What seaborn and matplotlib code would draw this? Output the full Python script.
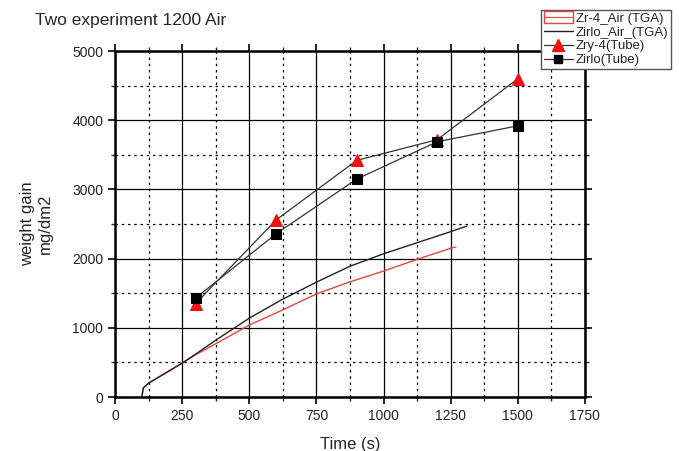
import numpy as np
import pandas as pd
import matplotlib
matplotlib.use('Agg')
import matplotlib.pyplot as plt
import seaborn as sns
from matplotlib.patches import Rectangle
from matplotlib.lines import Line2D
from matplotlib.ticker import MultipleLocator

# TGA curves
tga_time_zr4 = [100, 105, 125, 250, 300, 375, 500, 625, 750, 875, 1000, 1125, 1250, 1269]
tga_gain_zr4 = [0, 130, 200, 490, 610, 770, 1040, 1260, 1490, 1665, 1820, 1990, 2150, 2168]
tga_time_zirlo = [100, 105, 125, 250, 300, 375, 500, 625, 750, 875, 1000, 1125, 1250, 1310]
tga_gain_zirlo = [0, 130, 200, 490, 620, 820, 1140, 1415, 1660, 1890, 2070, 2230, 2390, 2470]

# tube experiments
tube_time = [300, 600, 900, 1200, 1500]
tube_zry4 = [1350, 2560, 3420, 3720, 4600]
tube_zirlo = [1430, 2360, 3150, 3690, 3920]


class BoxLineHandler:
    # red outlined box with a line through it, like the origin legend
    def legend_artist(self, legend, orig_handle, fontsize, handlebox):
        x0, y0 = handlebox.xdescent, handlebox.ydescent
        w, h = handlebox.width, handlebox.height
        r = Rectangle((x0, y0 - 1), w, h + 2, facecolor='white',
                      edgecolor='#e8463c', lw=1.0, transform=handlebox.get_transform())
        ln = Line2D([x0, x0 + w], [y0 + h / 2, y0 + h / 2], color='#e8463c', lw=0.8,
                    transform=handlebox.get_transform())
        handlebox.add_artist(r)
        handlebox.add_artist(ln)
        return r


sns.set_style('ticks')
plt.rcParams['font.family'] = ['Liberation Sans', 'DejaVu Sans']

fig = plt.figure(figsize=(6.79, 4.51), dpi=100)
ax = fig.add_axes([0.1694, 0.1197, 0.692, 0.767])

df_zr4 = pd.DataFrame({'t': tga_time_zr4, 'w': tga_gain_zr4})
df_zirlo = pd.DataFrame({'t': tga_time_zirlo, 'w': tga_gain_zirlo})
df_tube = pd.DataFrame({'t': tube_time, 'zry4': tube_zry4, 'zirlo': tube_zirlo})

sns.lineplot(data=df_zr4, x='t', y='w', ax=ax, color='#e8463c', lw=1.0, zorder=4)
sns.lineplot(data=df_zirlo, x='t', y='w', ax=ax, color='#222222', lw=1.0, zorder=4)
sns.lineplot(data=df_tube, x='t', y='zry4', ax=ax, color='#333333', lw=0.9,
             marker='^', markersize=8, markerfacecolor='#ee1111',
             markeredgecolor='#ee1111', zorder=5)
sns.lineplot(data=df_tube, x='t', y='zirlo', ax=ax, color='#333333', lw=0.9,
             marker='s', markersize=6.5, markerfacecolor='black',
             markeredgecolor='black', zorder=5)

ax.set_xlim(0, 1750)
ax.set_ylim(0, 5000)
ax.xaxis.set_major_locator(MultipleLocator(250))
ax.xaxis.set_minor_locator(MultipleLocator(125))
ax.yaxis.set_major_locator(MultipleLocator(1000))
ax.yaxis.set_minor_locator(MultipleLocator(500))
ax.grid(which='major', color='black', lw=0.9, ls='-')
ax.grid(which='minor', color='black', lw=0.9, ls=(0, (2, 3)))
ax.set_axisbelow(True)
for s in ax.spines.values():
    s.set_linewidth(1.8)
    s.set_color('black')
ax.tick_params(which='major', direction='out', length=5, width=1.2,
               labelsize=10, colors='black', top=True, right=True)
ax.tick_params(which='minor', direction='out', length=3, width=1.0,
               top=True, right=True)
ax.tick_params(labelcolor='#222222')

ax.set_xlabel('Time (s)', fontsize=12, labelpad=10)
ax.set_ylabel('weight gain\nmg/dm2', fontsize=12, labelpad=14)
fig.text(0.052, 0.955, 'Two experiment 1200 Air', fontsize=12.5, va='center')

h2 = Line2D([], [], color='#222222', lw=1.0)
h3 = Line2D([], [], color='#333333', lw=0.9, marker='^', markersize=8,
            markerfacecolor='#ee1111', markeredgecolor='#ee1111')
h4 = Line2D([], [], color='#333333', lw=0.9, marker='s', markersize=6,
            markerfacecolor='black', markeredgecolor='black')
box_handle = Rectangle((0, 0), 1, 1)
leg = fig.legend([box_handle, h2, h3, h4],
                 ['Zr-4_Air (TGA)', 'Zirlo_Air_(TGA)', 'Zry-4(Tube)', 'Zirlo(Tube)'],
                 handler_map={box_handle: BoxLineHandler()},
                 loc='upper right', bbox_to_anchor=(0.988, 0.978),
                 fontsize=9.5, frameon=True, fancybox=False, framealpha=1,
                 edgecolor='#555555', handlelength=2.2, handletextpad=0.2,
                 labelspacing=0.12, borderpad=0.2, borderaxespad=0)
leg.get_frame().set_linewidth(1.0)

plt.savefig('out.png', dpi=100)
